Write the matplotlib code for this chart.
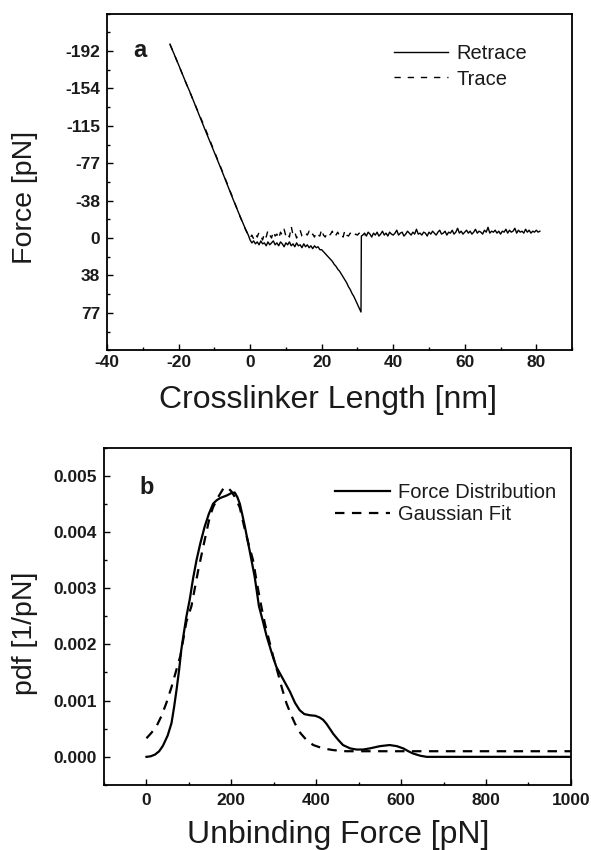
import numpy as np
import matplotlib
matplotlib.use("Agg")
import matplotlib.pyplot as plt
from matplotlib.ticker import MultipleLocator, FixedLocator, FuncFormatter

plt.rcParams['font.family'] = ['Liberation Sans', 'DejaVu Sans']
plt.rcParams['axes.unicode_minus'] = False
plt.rcParams['lines.scale_dashes'] = False

# ---- panel a: force curve (x in nm, y in pN, positive = pulling) ----
retrace_approach_x = [-22.4, -20, -18, -16.6, -14, -12.9, -10, -8, -5, -3, -1.5, -0.5, 0]
retrace_approach_y = [-199, -178, -160, -148, -124, -114, -88, -70, -42, -24, -11, -3, 2]

retrace_mid_x = np.arange(0, 31.01, 0.5)
retrace_mid_y = [2, 5, 3, 6, 4, 7, 3, 6, 5, 8, 4, 7, 5, 3, 7, 5, 8, 4, 6, 9,
                 5, 7, 4, 8, 6, 9, 5, 8, 7, 10, 6, 9, 7, 10, 8, 11, 8, 10, 9, 12,
                 12, 14, 16, 18, 20, 22, 24, 27, 29, 32, 34, 37, 40, 43, 46, 50,
                 53, 57, 60, 64, 68, 72, 76]

retrace_tail_x = np.arange(31.5, 81.01, 0.5)
retrace_tail_y = [-3, -5, -2, -6, -4, -1, -5, -3, -6, -2, -4, -7, -3, -5, -2, -6, -4, -3,
                  -5, -8, -3, -5, -6, -2, -4, -7, -5, -3, -6, -4, -9, -4, -5, -3, -6, -5, -2, -6,
                  -4, -7, -5, -3, -6, -8, -4, -5, -7, -3, -6, -5, -8, -4, -6, -10, -5, -7, -4, -6,
                  -8, -5, -7, -4, -6, -9, -5, -7, -6, -4, -8, -6, -11, -5, -7, -6, -8, -5, -7, -4,
                  -7, -6, -9, -5, -8, -6, -7, -10, -5, -8, -6, -7, -5, -9, -6, -8, -5, -7, -6, -8,
                  -6, -7]

trace_approach_x = [-22.4, -20, -18, -16.3, -14, -12.6, -10, -7.7, -4.7, -2.8, -1.2, 0]
trace_approach_y = [-199, -178, -160, -145, -125, -113, -89, -68, -40, -22, -8, 0]

trace_mid_x = np.arange(0, 32.01, 0.5)
trace_mid_y = [0, -3, 1, -4, -1, -6, -2, 2, -5, -1, -8, -3, 0, -7, -2, -4, 1, -6, -3, -9, -2,
               -5, -1, -12, -3, -6, 0, -4, -8, -2, -1, -5, -3, -7, -2, -4, -1, -6, -3, -2,
               -9, -3, -1, -5, -2, -4, -7, -1, -3, -6, -2, -4, -1, -8, -3, -2, -5, -3, -1,
               -4, -3, -5, -2, -4, -3]

force_ticks = [-192, -153.6, -115.2, -76.8, -38.4, 0, 38.4, 76.8]

# ---- panel b: unbinding force distribution ----
dist_x = [0, 10, 20, 30, 39, 50, 59, 65, 71, 77, 82, 88, 94, 102, 110, 118, 127, 137, 147,
          157, 165, 173, 190, 200, 208, 214, 220, 226, 232, 243, 255, 265, 274, 283, 295,
          306, 322, 338, 350, 361, 372, 385, 398, 408, 416, 424, 432, 440, 452, 463, 480,
          495, 510, 526, 550, 573, 590, 605, 617, 628, 645, 660, 1000]
dist_y = [0, 0.00001, 0.00004, 0.0001, 0.0002, 0.00038, 0.0006, 0.00088, 0.0012, 0.00155,
          0.0019, 0.0022, 0.00249, 0.0028, 0.00318, 0.0035, 0.0038, 0.00409, 0.00432,
          0.0045, 0.00456, 0.0046, 0.00465, 0.00469, 0.0047, 0.00462, 0.0045, 0.0043,
          0.00409, 0.00367, 0.0032, 0.00268, 0.00242, 0.00215, 0.00185, 0.0016, 0.00138,
          0.00116, 0.00096, 0.00083, 0.00076, 0.00074, 0.00073, 0.0007, 0.00066, 0.00059,
          0.0005, 0.00041, 0.0003, 0.00021, 0.00015, 0.00013, 0.00013, 0.00015, 0.00019,
          0.00021, 0.00019, 0.00015, 0.0001, 0.00006, 0.00002, 0, 0]

fit_x = [0, 12, 24, 35, 47, 59, 71, 80, 94, 106, 122, 137, 149, 157, 169, 181, 190, 200,
         210, 220, 230, 240, 251, 260, 271, 279, 291, 300, 310, 320, 330, 340, 350, 363,
         377, 393, 416, 440, 470, 1000]
fit_y = [0.00033, 0.00043, 0.00055, 0.00072, 0.00096, 0.00124, 0.00156, 0.0018, 0.0024,
         0.00268, 0.00332, 0.00385, 0.00426, 0.00444, 0.00462, 0.00477, 0.0048, 0.00472,
         0.0046, 0.00443, 0.0041, 0.0038, 0.0035, 0.0031, 0.00266, 0.00237, 0.00201,
         0.00174, 0.00148, 0.0012, 0.00095, 0.00076, 0.00059, 0.00042, 0.0003, 0.00021,
         0.00015, 0.00012, 0.0001, 0.0001]

fig = plt.figure(figsize=(5.91, 8.5), dpi=100)
ax1 = fig.add_axes([0.181, 0.588, 0.787, 0.396])
ax2 = fig.add_axes([0.176, 0.0765, 0.790, 0.397])

txt = '#1a1a1a'


def style_axes(ax, xpad):
    for sp in ax.spines.values():
        sp.set_linewidth(1.3)
    ax.tick_params(which='both', direction='in', top=False, right=False,
                   colors='black', labelcolor=txt)
    ax.tick_params(which='major', length=4.3, width=1.0, labelsize=12.5)
    ax.tick_params(which='minor', length=2.4, width=1.0)
    ax.tick_params(axis='y', pad=5)
    ax.tick_params(axis='x', pad=xpad)
    for lab in ax.get_xticklabels() + ax.get_yticklabels():
        lab.set_fontweight('bold')


# panel a
trace_x = list(trace_approach_x) + list(trace_mid_x)
trace_y = list(trace_approach_y) + list(trace_mid_y)
retrace_x = list(retrace_approach_x) + list(retrace_mid_x) + [31.1] + list(retrace_tail_x)
retrace_y = list(retrace_approach_y) + list(retrace_mid_y) + [-2] + list(retrace_tail_y)

ax1.plot(trace_x, trace_y, color='black', lw=1.0, dashes=(4.5, 5), label='Trace', zorder=2)
ax1.plot(retrace_x, retrace_y, color='black', lw=1.0, label='Retrace', zorder=3)
ax1.set_xlim(-40, 90)
ax1.set_ylim(115.2, -230.4)
ax1.xaxis.set_major_locator(MultipleLocator(20))
ax1.xaxis.set_minor_locator(MultipleLocator(10))
ax1.yaxis.set_major_locator(FixedLocator(force_ticks))
ax1.yaxis.set_minor_locator(MultipleLocator(19.2))
ax1.yaxis.set_major_formatter(FuncFormatter(lambda v, p: '%d' % round(v + 0.0)))
ax1.xaxis.set_major_formatter(FuncFormatter(lambda v, p: '%d' % round(v + 0.0)))
style_axes(ax1, 3.5)
ax1.set_xlabel('Crosslinker Length [nm]', fontsize=23, color=txt)
ax1.xaxis.set_label_coords(0.475, -0.149)
ax1.xaxis.label.set_va('center')
ax1.set_ylabel('Force [pN]', fontsize=20.5, color=txt, va='center')
ax1.yaxis.set_label_coords(-0.176, 0.453)
ax1.text(0.071, 0.891, 'a', transform=ax1.transAxes, fontsize=17, fontweight='bold',
         ha='center', va='center', color=txt)
h, l = ax1.get_legend_handles_labels()
ax1.legend(h[::-1], l[::-1], loc='upper left', bbox_to_anchor=(0.617, 0.91), frameon=False,
           fontsize=14.5, handlelength=2.7, handletextpad=0.4, labelspacing=0.33,
           borderpad=0, borderaxespad=0, labelcolor=txt)

# panel b
ax2.plot(dist_x, dist_y, color='black', lw=1.6, label='Force Distribution', zorder=3)
ax2.plot(fit_x, fit_y, color='black', lw=1.6, dashes=(6.8, 5.4), label='Gaussian Fit', zorder=2)
ax2.set_xlim(-100, 1000)
ax2.set_ylim(-0.0005, 0.0055)
ax2.xaxis.set_major_locator(MultipleLocator(200))
ax2.xaxis.set_minor_locator(MultipleLocator(100))
ax2.yaxis.set_major_locator(MultipleLocator(0.001))
ax2.yaxis.set_minor_locator(MultipleLocator(0.0005))
ax2.yaxis.set_major_formatter(FuncFormatter(lambda v, p: '%.3f' % (abs(v) if abs(v) < 1e-9 else v)))
ax2.xaxis.set_major_formatter(FuncFormatter(lambda v, p: '%d' % round(v + 0.0)))
style_axes(ax2, 5.5)
ax2.set_xlabel('Unbinding Force [pN]', fontsize=23, color=txt)
ax2.xaxis.set_label_coords(0.502, -0.148)
ax2.xaxis.label.set_va('center')
ax2.set_ylabel('pdf [1/pN]', fontsize=20.5, color=txt, va='center')
ax2.yaxis.set_label_coords(-0.169, 0.449)
ax2.text(0.091, 0.883, 'b', transform=ax2.transAxes, fontsize=17, fontweight='bold',
         ha='center', va='center', color=txt)
ax2.legend(loc='upper left', bbox_to_anchor=(0.495, 0.895), frameon=False,
           fontsize=14.5, handlelength=2.7, handletextpad=0.4, labelspacing=0.15,
           borderpad=0, borderaxespad=0, labelcolor=txt)

fig.savefig('out.png', dpi=100)
